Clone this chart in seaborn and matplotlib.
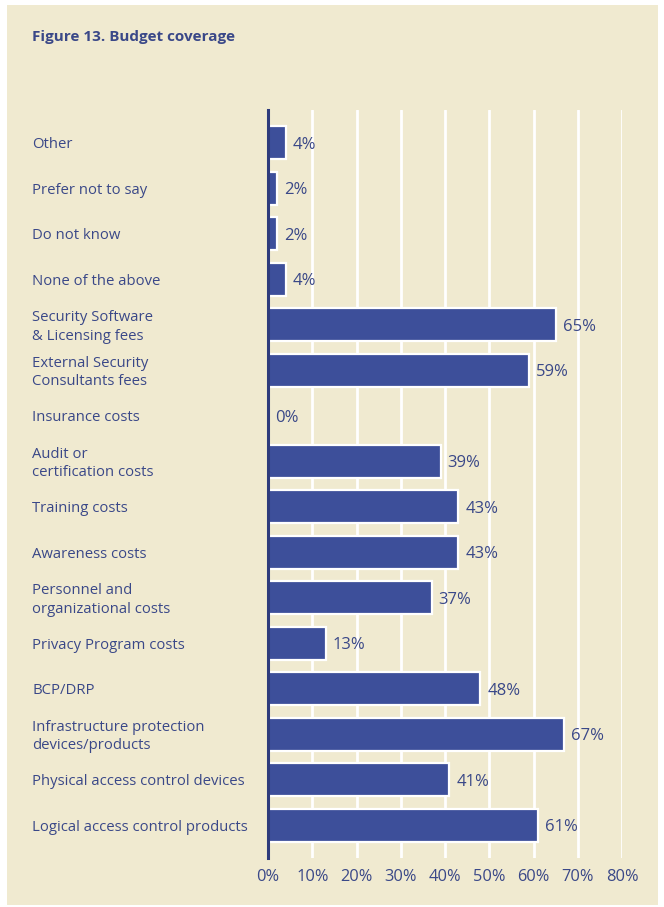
import matplotlib
matplotlib.use("Agg")
import matplotlib.pyplot as plt
import matplotlib.transforms as mtransforms
import seaborn as sns
import pandas as pd

categories = [
    "Other",
    "Prefer not to say",
    "Do not know",
    "None of the above",
    "Security Software\n& Licensing fees",
    "External Security\nConsultants fees",
    "Insurance costs",
    "Audit or\ncertification costs",
    "Training costs",
    "Awareness costs",
    "Personnel and\norganizational costs",
    "Privacy Program costs",
    "BCP/DRP",
    "Infrastructure protection\ndevices/products",
    "Physical access control devices",
    "Logical access control products",
]
values = [4, 2, 2, 4, 65, 59, 0, 39, 43, 43, 37, 13, 48, 67, 41, 61]
tick_values = [0, 10, 20, 30, 40, 50, 60, 70, 80]
tick_labels = [f"{v}%" for v in tick_values]

df = pd.DataFrame({"category": categories, "value": values})

sns.set_theme(style="white")
plt.rcParams["font.family"] = ["Open Sans", "DejaVu Sans"]

BG = "#F0EAD0"
BAR = "#3D4F9A"
TXT = "#3A4888"
AXIS = "#2E3B7C"

fig = plt.figure(figsize=(6.64, 9.07), dpi=100)
fig.patch.set_facecolor("white")
# beige panel
panel = plt.Rectangle((7 / 664, 1 - 905 / 907), (658 - 7) / 664, (905 - 5) / 907,
                      transform=fig.transFigure, facecolor=BG, edgecolor="none", zorder=-10)
fig.patches.append(panel)

ax = fig.add_axes([268 / 664, 1 - 858 / 907, (622 - 268) / 664, (858 - 110) / 907])
ax.set_facecolor("none")

sns.barplot(data=df, x="value", y="category", orient="h", color=BAR, width=0.72,
            saturation=1, edgecolor="white", linewidth=1.6, ax=ax, zorder=3)

ax.set_xlim(0, 80)
ax.set_ylim(len(categories) - 1 + 0.72, -0.72)
ax.set_xticks(tick_values)
ax.set_xticklabels(tick_labels, fontsize=11.8, color=TXT)
ax.tick_params(axis="x", length=0, pad=8)
ax.set_yticks(range(len(categories)))
ax.set_yticklabels([])
ax.tick_params(axis="y", length=0)
ax.set_xlabel("")
ax.set_ylabel("")

for v in tick_values[1:]:
    ax.axvline(v, color="white", lw=2, zorder=1)

for s in ["top", "right", "bottom"]:
    ax.spines[s].set_visible(False)
ax.spines["left"].set_color(AXIS)
ax.spines["left"].set_linewidth(2.2)
ax.spines["left"].set_zorder(5)

trans = mtransforms.blended_transform_factory(fig.transFigure, ax.transData)
for i, (c, v) in enumerate(zip(categories, values)):
    ax.annotate(c, xy=(32 / 664, i), xycoords=trans, xytext=(0, -1.5),
                textcoords="offset points", ha="left", va="center",
                fontsize=10.7, color=TXT, linespacing=1.32)
    ax.annotate(f"{v}%", xy=(v, i), xytext=(5, -1.5), textcoords="offset points",
                ha="left", va="center", fontsize=12, color=TXT)

fig.text(32 / 664, 1 - 37 / 907, "Figure 13. Budget coverage", ha="left", va="center",
         fontsize=11, fontweight="bold", color=TXT)

fig.savefig("out.png", dpi=100, facecolor="white")
